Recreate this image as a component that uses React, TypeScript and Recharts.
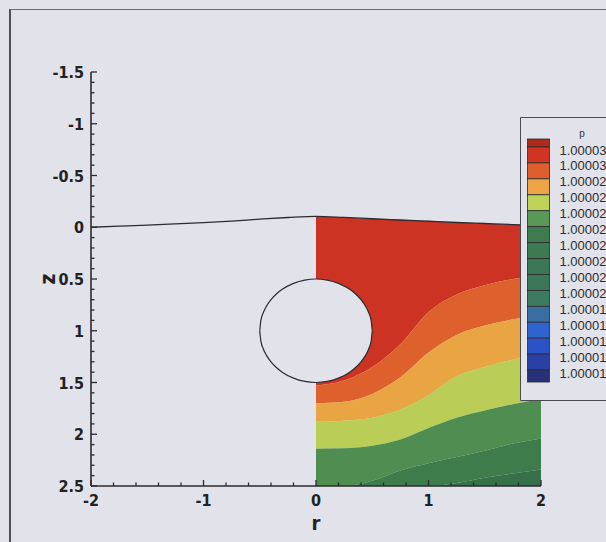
import React from 'react';
import { ComposedChart, Area, Line, XAxis, YAxis, Legend, Label } from 'recharts';

// ---- data ----
const rGrid = [-2, -1.75, -1.5, -1.25, -1, -0.75, -0.5, -0.25, 0, 0.25, 0.5, 0.75, 1, 1.25, 1.5, 1.75, 2];
const surfaceZ = [0, -0.01, -0.02, -0.032, -0.045, -0.06, -0.078, -0.094, -0.105, -0.095, -0.082, -0.07, -0.058, -0.046, -0.036, -0.026, -0.015];

const bandR = [0, 0.25, 0.5, 0.75, 1, 1.25, 1.5, 1.75, 2];
const level1 = [1.53, 1.48, 1.35, 1.13, 0.82, 0.65, 0.56, 0.5, 0.46];
const level2 = [1.7, 1.685, 1.61, 1.45, 1.21, 1.04, 0.95, 0.89, 0.85];
const level3 = [1.88, 1.87, 1.84, 1.76, 1.62, 1.44, 1.35, 1.28, 1.24];
const level4 = [2.14, 2.135, 2.11, 2.05, 1.94, 1.84, 1.77, 1.71, 1.66];
const level5 = [2.5, 2.5, 2.45, 2.35, 2.28, 2.22, 2.16, 2.09, 2.04];
const level6 = [2.5, 2.5, 2.5, 2.5, 2.5, 2.47, 2.42, 2.38, 2.34];
const zBottom = 2.5;

const bandKeys = ['band1', 'band2', 'band3', 'band4', 'band5', 'band6', 'band7'];
const bandColors = ['#cd3323', '#de602c', '#e9a444', '#b9cd57', '#4f8d51', '#3f7c4b', '#37714a'];

const circleR = [-0.5, -0.49, -0.47, -0.44, -0.4, -0.35, -0.3, -0.2, -0.1, 0, 0.1, 0.2, 0.3, 0.35, 0.4, 0.44, 0.47, 0.49, 0.5];
const circleTop = [1, 0.9, 0.829, 0.762, 0.7, 0.643, 0.6, 0.542, 0.51, 0.5, 0.51, 0.542, 0.6, 0.643, 0.7, 0.762, 0.829, 0.9, 1];
const circleBottom = [1, 1.1, 1.171, 1.238, 1.3, 1.357, 1.4, 1.458, 1.49, 1.5, 1.49, 1.458, 1.4, 1.357, 1.3, 1.238, 1.171, 1.1, 1];

const xMajorTicks = [-2, -1, 0, 1, 2];
const xTicks = [-2, -1.8, -1.6, -1.4, -1.2, -1, -0.8, -0.6, -0.4, -0.2, 0, 0.2, 0.4, 0.6, 0.8, 1, 1.2, 1.4, 1.6, 1.8, 2];
const yMajorTicks = [-1.5, -1, -0.5, 0, 0.5, 1, 1.5, 2, 2.5];
const yTicks = [-1.5, -1.4, -1.3, -1.2, -1.1, -1, -0.9, -0.8, -0.7, -0.6, -0.5, -0.4, -0.3, -0.2, -0.1, 0,
  0.1, 0.2, 0.3, 0.4, 0.5, 0.6, 0.7, 0.8, 0.9, 1, 1.1, 1.2, 1.3, 1.4, 1.5, 1.6, 1.7, 1.8, 1.9, 2,
  2.1, 2.2, 2.3, 2.4, 2.5];

const legendTitle = 'p';
const legendColors = ['#ad2a1d', '#d13422', '#df5f2c', '#eca445', '#bfd258', '#5a9858', '#3e7c50', '#3c7a52',
  '#3b7855', '#3b7858', '#3d7b60', '#3a6ea2', '#2f63cf', '#2b52c6', '#2a40a6', '#28307a'];
const legendLabels = ['1.00003', '1.00003', '1.00002', '1.00002', '1.00002', '1.00002', '1.00002', '1.00002',
  '1.00002', '1.00002', '1.00001', '1.00001', '1.00001', '1.00001', '1.00001'];

// ---- table built from arrays ----
const rowMap = new Map<number, any>();
const rowFor = (r: number) => {
  if (!rowMap.has(r)) rowMap.set(r, { r });
  return rowMap.get(r);
};
rGrid.forEach((r, i) => { rowFor(r).surf = surfaceZ[i]; });
bandR.forEach((r, i) => {
  const o = rowFor(r);
  const s = surfaceZ[rGrid.indexOf(r)];
  const lv = [s, level1[i], level2[i], level3[i], level4[i], level5[i], level6[i], zBottom];
  bandKeys.forEach((k, j) => { o[k] = [lv[j], lv[j + 1]]; });
});
circleR.forEach((r, i) => { rowFor(r).circle = [circleTop[i], circleBottom[i]]; });
const chartData = Array.from(rowMap.values()).sort((a, b) => a.r - b.r);

const BG = '#e2e2ea';
const INK = '#2b2b30';
const AXIS_FONT = "'Liberation Sans Narrow', 'Arial Narrow', 'DejaVu Sans Condensed', Arial, sans-serif";

const XTick = (props: any) => {
  const { x, y, payload } = props;
  const v = payload.value;
  const major = xMajorTicks.includes(v);
  return (
    <g>
      <line x1={x} x2={x} y1={y} y2={y - (major ? 6 : 3.5)} stroke={INK} strokeWidth={1.3} />
      {major && (
        <text x={x} y={y + 20} textAnchor="middle" fontFamily={AXIS_FONT} fontWeight="bold" fontSize={16} fill="#222">
          {String(v)}
        </text>
      )}
    </g>
  );
};

const YTick = (props: any) => {
  const { x, y, payload } = props;
  const v = payload.value;
  const major = yMajorTicks.includes(v);
  return (
    <g>
      <line x1={x} x2={x + (major ? 6 : 3.5)} y1={y} y2={y} stroke={INK} strokeWidth={1.3} />
      {major && (
        <text x={x - 7} y={y + 6} textAnchor="end" fontFamily={AXIS_FONT} fontWeight="bold" fontSize={16} fill="#222">
          {String(v)}
        </text>
      )}
    </g>
  );
};

const ColorBar = () => {
  const top0 = 22;
  const firstH = 8;
  const step = 15.93;
  const lastH = 12;
  const bounds = legendLabels.map((_, i) => top0 + firstH + step * i);
  const rects = legendColors.map((c, i) => {
    if (i === 0) return { y: top0, h: firstH, c };
    if (i === legendColors.length - 1) return { y: bounds[bounds.length - 1], h: lastH, c };
    return { y: bounds[i - 1], h: step, c };
  });
  return (
    <svg width={100} height={284} style={{ display: 'block' }}>
      <rect x={0} y={0} width={100} height={284} fill={BG} />
      <polyline points="100,0.5 0.5,0.5 0.5,283.5 100,283.5" fill="none" stroke="#4a4a50" strokeWidth={1} />
      <text x={62} y={20} textAnchor="middle" fontFamily="Arial, sans-serif" fontSize={10} fill="#333">{legendTitle}</text>
      {rects.map((r, i) => (
        <rect key={i} x={7.5} y={r.y} width={22} height={r.h} fill={r.c} stroke="#2a2a2a" strokeWidth={0.8} />
      ))}
      {legendLabels.map((l, i) => (
        <text key={i} x={39.5} y={bounds[i] + 7.5} fontFamily="Arial, sans-serif" fontSize={13} fill="#2d2d2d">{l}</text>
      ))}
    </svg>
  );
};

const renderZLabel = (p: any) => {
  const vb = p.viewBox || { x: 51, y: 72, width: 40, height: 414 };
  const cx = vb.x + 4;
  const cy = vb.y + vb.height / 2;
  return (
    <text x={cx} y={cy} transform={`rotate(-90, ${cx}, ${cy})`} textAnchor="middle" fontFamily={AXIS_FONT} fontWeight="bold" fontSize={21} fill="#222">z</text>
  );
};

const renderRLabel = (p: any) => {
  const vb = p.viewBox || { x: 91, y: 486, width: 450, height: 30 };
  return (
    <text x={vb.x + vb.width / 2} y={vb.y + 44} textAnchor="middle" fontFamily={AXIS_FONT} fontWeight="bold" fontSize={20} fill="#222">r</text>
  );
};

export default function App() {
  return (
    <div style={{ position: 'fixed', left: 0, top: 0, width: 606, height: 542, background: BG, overflow: 'hidden' }}>
      <div style={{ position: 'absolute', left: 9, top: 9, width: 800, height: 800, borderLeft: '2px solid #4d4d56', borderTop: '1px solid #6a6a72' }} />
      <div style={{ position: 'absolute', left: 0, top: 0 }}>
        <ComposedChart width={606} height={542} data={chartData} margin={{ top: 72, right: 65, bottom: 26, left: 51 }}>
          {bandKeys.map((k, i) => (
            <Area key={k} dataKey={k} type="monotone" fill={bandColors[i]} fillOpacity={1} stroke="none"
              connectNulls isAnimationActive={false} dot={false} activeDot={false} />
          ))}
          <Area dataKey="circle" type="monotone" fill={BG} fillOpacity={1} stroke={INK} strokeWidth={1.2}
            connectNulls isAnimationActive={false} dot={false} activeDot={false} />
          <Line dataKey="surf" type="monotone" stroke={INK} strokeWidth={1.3} dot={false} activeDot={false}
            connectNulls isAnimationActive={false} />
          <XAxis type="number" dataKey="r" domain={[-2, 2]} ticks={xTicks} interval={0} allowDataOverflow
            tick={(p: any) => <XTick {...p} />} tickLine={false} tickSize={0} tickMargin={0} height={30}
            axisLine={{ stroke: INK, strokeWidth: 1.6 }}>
            <Label content={renderRLabel} />
          </XAxis>
          <YAxis type="number" domain={[-1.5, 2.5]} reversed ticks={yTicks} interval={0} allowDataOverflow
            tick={(p: any) => <YTick {...p} />} tickLine={false} tickSize={0} tickMargin={0} width={40}
            axisLine={{ stroke: INK, strokeWidth: 1.6 }}>
            <Label content={renderZLabel} />
          </YAxis>
          <Legend layout="vertical" align="center" verticalAlign="middle" content={() => <ColorBar />}
            wrapperStyle={{ left: 520, top: 117, width: 100, height: 284 }} />
        </ComposedChart>
      </div>
    </div>
  );
}
